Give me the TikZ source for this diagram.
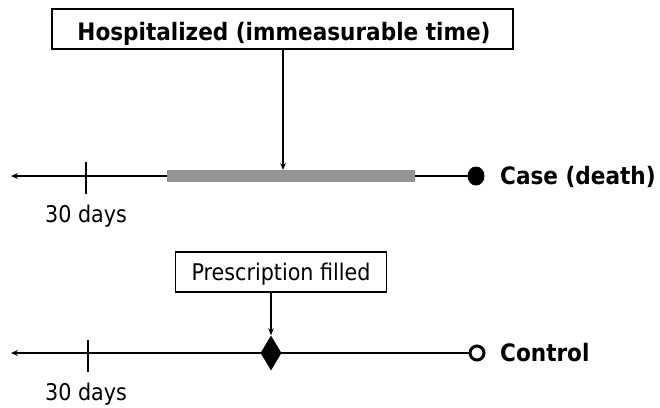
\documentclass[tikz,border=0pt]{standalone}
\usepackage{fontspec}
\setmainfont{DejaVu Sans Condensed}
\usetikzlibrary{arrows.meta,shapes.geometric}
\begin{document}
\begin{tikzpicture}[x=1pt,y=-1pt,
  lbl/.style={inner sep=0pt, font=\fontsize{23}{26}\selectfont},
  bold/.style={inner sep=0pt, font=\fontsize{24}{27}\selectfont\bfseries},
  tl/.style={line width=1.8pt},
  arr/.style={line width=1.2pt, -{Stealth[length=7pt,width=5.5pt]}},
  box/.style={draw, line width=1.1pt, inner sep=0pt}]
\useasboundingbox (0,0) rectangle (660,407);
% Case timeline
\node[box, minimum width=461pt, minimum height=40pt] (hosp) at (282.5,29) {};
\node[bold, anchor=base] (hospt) at (284,40) {Hospitalized (immeasurable time)};
\coordinate (cL) at (11,176);
\coordinate (cE) at (470,176);
\draw[tl, -{Stealth[length=7pt,width=6pt]}] (cE) -- (cL);
\draw[line width=2.4pt] (86,162) coordinate (t1a) -- (86,194) coordinate (t1b);
\fill[black!42] (167,170) rectangle (415,182);
\coordinate (bar) at (283,170);
\draw[arr] (hosp.south -| bar) -- (bar);
\node[ellipse, fill=black, inner sep=0pt, minimum width=17pt, minimum height=19pt] (death) at (476,176) {};
\node[bold, anchor=base west] (case) at (500,184.5) {Case (death)};
\node[lbl, anchor=base] (d1) at (86,222) {30 days};
% Control timeline
\node[box, minimum width=211pt, minimum height=40pt] (presc) at (281,272) {};
\node[lbl, anchor=base] (presct) at (281,280) {Prescription filled};
\coordinate (kL) at (11,353);
\coordinate (kE) at (469,353);
\draw[tl, -{Stealth[length=7pt,width=6pt]}] (kE) -- (kL);
\draw[line width=2.4pt] (88,340) -- (88,372);
\node[diamond, fill=black, inner sep=0pt, minimum width=21pt, minimum height=35pt] (dia) at (271,353) {};
\draw[arr] (presc.south -| dia) -- (dia.north);
\node[circle, draw, line width=3pt, fill=white, inner sep=0pt, minimum size=14pt] (ctl) at (477,353) {};
\node[bold, anchor=base west] (control) at (500,361.5) {Control};
\node[lbl, anchor=base] (d2) at (86,400) {30 days};
\end{tikzpicture}
\end{document}
